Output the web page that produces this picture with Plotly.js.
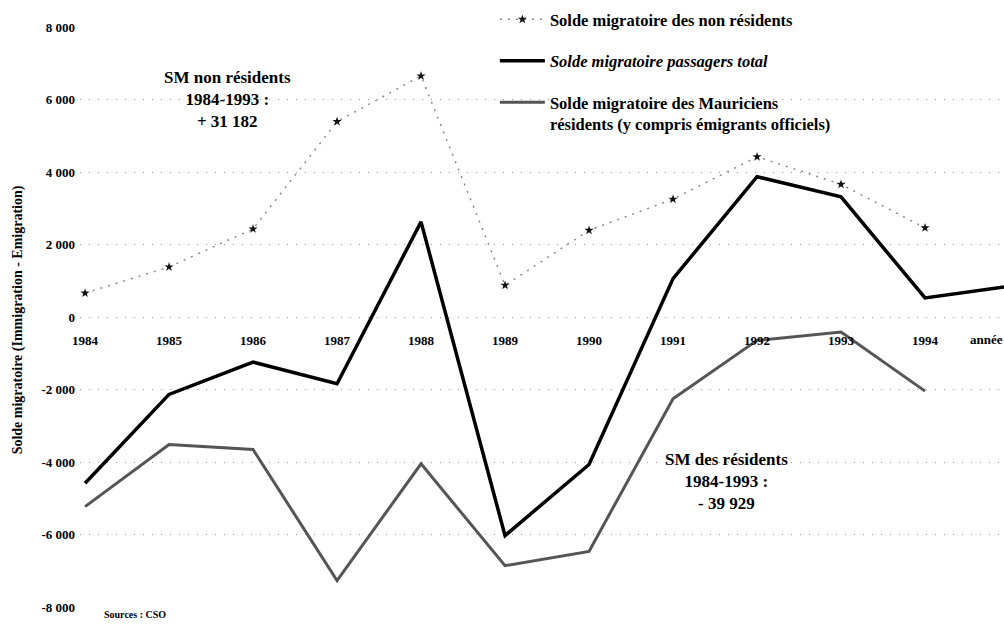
<!DOCTYPE html>
<html>
<head>
<meta charset="utf-8">
<script src="https://cdn.plot.ly/plotly-3.0.1.min.js"></script>
<style>html,body{margin:0;padding:0;background:#fff;}#chart{width:1004px;height:628px;}</style>
</head>
<body>
<div id="chart"></div>
<script>
// Years (x), tick labels and series values
const years = [1984, 1985, 1986, 1987, 1988, 1989, 1990, 1991, 1992, 1993, 1994];
const yearsTotal = [1984, 1985, 1986, 1987, 1988, 1989, 1990, 1991, 1992, 1993, 1994, 1995];
const xTickLabels = ['1984', '1985', '1986', '1987', '1988', '1989', '1990', '1991', '1992', '1993', '1994'];
const xAxisLabel = 'année';
const yTickVals = [-8000, -6000, -4000, -2000, 0, 2000, 4000, 6000, 8000];
const yTickLabels = ['-8 000', '-6 000', '-4 000', '-2 000', '0', '2 000', '4 000', '6 000', '8 000'];

const nonResidents = [660, 1380, 2430, 5390, 6650, 875, 2390, 3250, 4420, 3660, 2460];
const totalPassengers = [-4585, -2135, -1245, -1840, 2625, -6030, -4070, 1060, 3870, 3315, 525, 850];
const residents = [-5230, -3515, -3655, -7270, -4050, -6860, -6465, -2255, -645, -415, -2045];

const seriesNames = [
  'Solde migratoire des non résidents',
  '<i>Solde migratoire passagers total</i>',
  'Solde migratoire des Mauriciens<br>résidents (y compris émigrants officiels)'
];
const noteNonRes = 'SM non résidents<br>1984-1993 :<br>+ 31 182';
const noteRes = 'SM des résidents<br>1984-1993 :<br>- 39 929';
const yTitle = 'Solde migratoire (Immigration - Emigration)';
const sourceText = 'Sources : CSO';

const FONT = 'Liberation Serif, DejaVu Serif, serif';

const traces = [
  {
    x: years, y: nonResidents, name: seriesNames[0], legendgroup: 'a',
    type: 'scatter', mode: 'lines+markers',
    line: {color: '#8a8a8a', width: 1.5, dash: '2px,6px'},
    marker: {symbol: 'star', size: 7, color: '#111'}
  },
  {
    x: yearsTotal, y: totalPassengers, name: seriesNames[1], legendgroup: 'b',
    type: 'scatter', mode: 'lines',
    line: {color: '#000', width: 3.5}
  },
  {
    x: years, y: residents, name: seriesNames[2], legendgroup: 'c',
    type: 'scatter', mode: 'lines',
    line: {color: '#555', width: 3}
  }
];

const layout = {
  width: 1004, height: 628,
  margin: {l: 80, r: 0, t: 27, b: 21},
  paper_bgcolor: '#fff', plot_bgcolor: '#fff',
  font: {family: FONT, size: 11, color: '#000', weight: 700},
  showlegend: true,
  legend: {
    x: 0.449, y: 1.043, xanchor: 'left', yanchor: 'top',
    font: {family: FONT, size: 16.5, color: '#000', weight: 700},
    bgcolor: 'rgba(0,0,0,0)', borderwidth: 0,
    itemwidth: 45, tracegroupgap: 17, valign: 'top', traceorder: 'grouped'
  },
  xaxis: {
    range: [1983.94, 1994.94],
    tickvals: years, ticktext: xTickLabels,
    anchor: 'free', position: 0.5,
    showgrid: false, zeroline: false, showline: false,
    ticks: '', ticklabelstandoff: 14,
    tickfont: {family: FONT, size: 13, weight: 700}
  },
  yaxis: {
    range: [-8000, 8000],
    tickvals: yTickVals, ticktext: yTickLabels,
    showgrid: true, gridcolor: '#999', griddash: '1px,8px', gridwidth: 1,
    zeroline: false, showline: false, ticks: '', ticklabelstandoff: 4,
    tickfont: {family: FONT, size: 13, weight: 700}
  },
  annotations: [
    {xref: 'x', yref: 'y', x: 1985.69, y: 5990, text: noteNonRes, showarrow: false,
     font: {family: FONT, size: 17, weight: 700}, align: 'center'},
    {xref: 'x', yref: 'y', x: 1991.64, y: -4545, text: noteRes, showarrow: false,
     font: {family: FONT, size: 17, weight: 700}, align: 'center'},
    {xref: 'paper', yref: 'paper', x: -0.0785, y: 0.495, text: yTitle, textangle: -90,
     showarrow: false, font: {family: FONT, size: 14, weight: 700}},
    {xref: 'paper', yref: 'paper', x: 0.024, y: -0.026, xanchor: 'left', text: sourceText,
     showarrow: false, font: {family: FONT, size: 10, weight: 700}},
    {xref: 'x', yref: 'y', x: 1994.51, y: -615, xanchor: 'left', text: xAxisLabel,
     showarrow: false, font: {family: FONT, size: 13, weight: 700}}
  ]
};

Plotly.newPlot('chart', traces, layout, {displayModeBar: false, staticPlot: true});
</script>
</body>
</html>
